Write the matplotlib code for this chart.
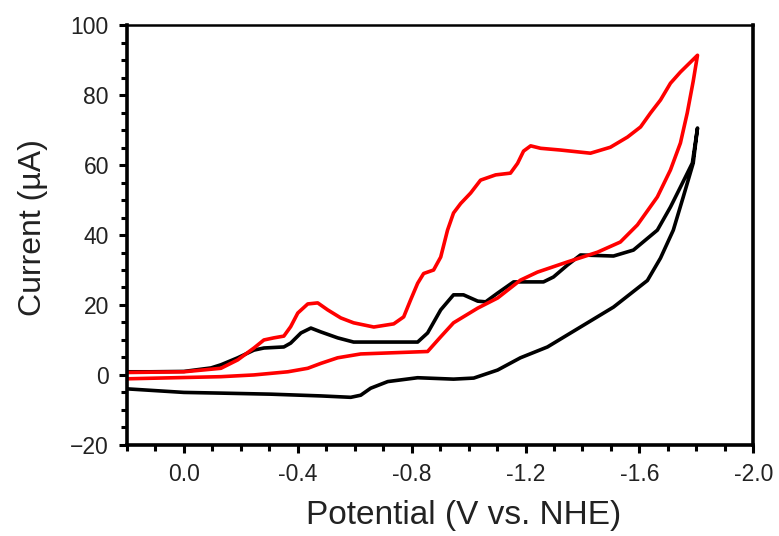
import matplotlib
matplotlib.use("Agg")
import matplotlib.pyplot as plt
from matplotlib.ticker import MultipleLocator, FuncFormatter

plt.rcParams['font.family'] = ['Liberation Sans', 'DejaVu Sans']

# CV data, potential in V vs NHE, current in uA
# black trace: cathodic sweep then return
black_fwd_v = [0.196, 0.116, 0.0, -0.095, -0.130, -0.189, -0.246, -0.281, -0.351, -0.375,
               -0.411, -0.446, -0.481, -0.540, -0.596, -0.716, -0.821, -0.856, -0.902, -0.947,
               -0.982, -1.032, -1.060, -1.102, -1.158, -1.263, -1.298, -1.347, -1.393, -1.509,
               -1.579, -1.663, -1.709, -1.744, -1.786, -1.804]
black_fwd_i = [0.9, 0.9, 1.0, 2.0, 2.9, 4.9, 7.1, 7.7, 8.0, 9.1,
               12.0, 13.4, 12.3, 10.6, 9.4, 9.4, 9.4, 12.0, 18.6, 22.9,
               22.9, 21.1, 20.9, 23.4, 26.6, 26.6, 28.0, 31.4, 34.3, 34.0,
               35.7, 41.4, 48.0, 53.7, 60.6, 70.6]
black_rev_v = [-1.804, -1.789, -1.754, -1.719, -1.674, -1.628, -1.509, -1.393, -1.277, -1.182,
               -1.102, -1.018, -0.947, -0.821, -0.716, -0.656, -0.621, -0.586, -0.481, -0.305,
               -0.130, 0.0, 0.196]
black_rev_i = [70.6, 60.6, 50.9, 41.4, 33.4, 27.0, 19.4, 13.7, 8.0, 4.9,
               1.4, -0.9, -1.2, -0.8, -1.9, -3.8, -5.8, -6.4, -6.0, -5.5,
               -5.2, -5.0, -4.0]

# red trace
red_fwd_v = [0.196, 0.0, -0.130, -0.189, -0.246, -0.281, -0.316, -0.351, -0.375, -0.400,
             -0.435, -0.470, -0.505, -0.551, -0.596, -0.667, -0.737, -0.772, -0.796, -0.821,
             -0.842, -0.877, -0.902, -0.926, -0.947, -0.972, -1.007, -1.042, -1.095, -1.147,
             -1.172, -1.193, -1.218, -1.253, -1.323, -1.428, -1.498, -1.558, -1.604, -1.639,
             -1.674, -1.709, -1.744, -1.804]
red_fwd_i = [0.7, 0.9, 1.9, 4.3, 7.7, 10.0, 10.6, 11.1, 13.8, 17.7,
             20.3, 20.6, 18.6, 16.3, 14.9, 13.7, 14.6, 16.6, 21.4, 26.2,
             29.0, 30.0, 33.7, 41.4, 46.3, 49.0, 52.0, 55.7, 57.2, 57.7,
             60.5, 64.0, 65.5, 64.8, 64.3, 63.4, 65.1, 68.0, 70.9, 74.9,
             78.6, 83.4, 86.6, 91.4]
red_rev_v = [-1.804, -1.789, -1.768, -1.744, -1.709, -1.663, -1.593, -1.533, -1.453, -1.347,
             -1.242, -1.182, -1.102, -1.032, -0.947, -0.902, -0.856, -0.621, -0.540, -0.481,
             -0.435, -0.365, -0.246, -0.130, 0.196]
red_rev_i = [91.4, 84.0, 74.9, 66.3, 58.6, 50.9, 42.9, 38.0, 35.1, 32.3,
             29.4, 27.1, 22.0, 19.1, 14.9, 10.9, 6.7, 6.0, 4.9, 3.3,
             1.9, 0.9, 0.0, -0.5, -1.1]

fig = plt.figure(figsize=(7.79, 5.36), dpi=100)
ax = fig.add_axes([0.163, 0.170, 0.804, 0.783])

ax.plot(black_fwd_v + black_rev_v, black_fwd_i + black_rev_i, color='black', lw=2.6,
        solid_joinstyle='round')
ax.plot(red_fwd_v + red_rev_v, red_fwd_i + red_rev_i, color='#ff0000', lw=2.6,
        solid_joinstyle='round')

ax.set_xlim(0.2, -2.0)
ax.set_ylim(-20, 100)
ax.xaxis.set_major_locator(MultipleLocator(0.4))
ax.xaxis.set_minor_locator(MultipleLocator(0.1))
ax.yaxis.set_major_locator(MultipleLocator(20))
ax.yaxis.set_minor_locator(MultipleLocator(5))
ax.xaxis.set_major_formatter(FuncFormatter(lambda v, p: f"{v:.1f}"))

ax.tick_params(which='major', direction='out', length=6, width=2.2, labelsize=16.5, pad=7,
               labelcolor='#222222')
ax.tick_params(which='minor', direction='out', length=4, width=2.2)
ax.tick_params(top=False, right=False)
for side in ['left', 'right', 'bottom']:
    ax.spines[side].set_linewidth(2.6)
ax.spines['top'].set_linewidth(1.8)

ax.set_xlabel('Potential (V vs. NHE)', fontsize=24, labelpad=10, color='#222222', x=0.537)
ax.set_ylabel('Current (\u00b5A)', fontsize=23, labelpad=16, color='#222222', y=0.517)

fig.savefig('out.png', dpi=100)
